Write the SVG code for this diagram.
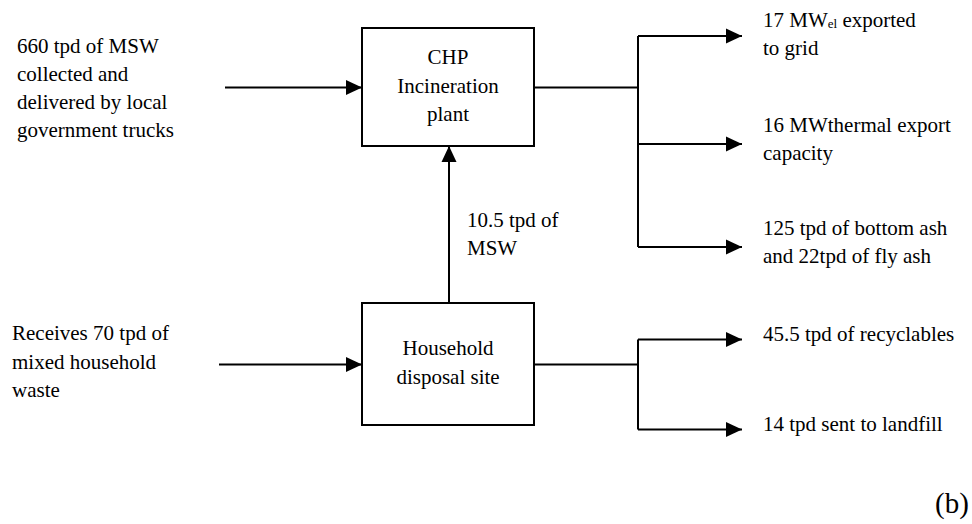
<svg xmlns="http://www.w3.org/2000/svg" width="972" height="524" viewBox="0 0 972 524">
<style>
text { font-family: 'Liberation Serif', 'Times New Roman', Times, 'DejaVu Serif', serif; font-size: 21px; fill: #000; }
.c { text-anchor: middle; }
.big { font-size: 29px; }
.sub { font-size: 13px; }
.box { fill: #fff; stroke: #000; stroke-width: 2; }
.ln { fill: none; stroke: #000; stroke-width: 2; }
.ar { fill: none; stroke: #000; stroke-width: 2; marker-end: url(#ah); }
</style>
<defs>
<marker id="ah" markerUnits="userSpaceOnUse" markerWidth="16" markerHeight="16" viewBox="0 0 16 16" refX="16" refY="8" orient="auto">
<path d="M0,0.5 L16,8 L0,15.5 Z" fill="#000"/>
</marker>
</defs>
<rect width="972" height="524" fill="#fff"/>
<g id="connectors">
<path class="ar" d="M225,87.5 H362"/>
<path class="ar" d="M219,364.5 H362"/>
<path class="ar" d="M449,303 V146"/>
<path class="ln" d="M534,87.5 H638"/>
<path class="ln" d="M638,36 V247"/>
<path class="ar" d="M638,36 H742"/>
<path class="ar" d="M638,144 H742"/>
<path class="ar" d="M638,247 H742"/>
<path class="ln" d="M534,364.5 H638"/>
<path class="ln" d="M638,339.5 V429.5"/>
<path class="ar" d="M638,339.5 H742"/>
<path class="ar" d="M638,429.5 H742"/>
</g>
<g id="chp">
<rect class="box" x="362" y="28" width="172" height="118"/>
<text class="c" x="448" y="64">CHP</text>
<text class="c" x="448" y="93">Incineration</text>
<text class="c" x="448" y="121">plant</text>
</g>
<g id="household">
<rect class="box" x="362" y="303" width="172" height="122"/>
<text class="c" x="448" y="355">Household</text>
<text class="c" x="448" y="384">disposal site</text>
</g>
<g id="msw-input">
<text x="17" y="53">660 tpd of MSW</text>
<text x="17" y="81">collected and</text>
<text x="17" y="109">delivered by local</text>
<text x="17" y="137">government trucks</text>
</g>
<g id="household-input">
<text x="12" y="340">Receives 70 tpd of</text>
<text x="12" y="369">mixed household</text>
<text x="12" y="397">waste</text>
</g>
<g id="msw-transfer">
<text x="467" y="227">10.5 tpd of</text>
<text x="467" y="255">MSW</text>
</g>
<g id="electricity">
<text x="763" y="27">17 MW<tspan class="sub" dy="1">el</tspan><tspan dy="-1"> exported</tspan></text>
<text x="763" y="55">to grid</text>
</g>
<g id="thermal">
<text x="763" y="132">16 MWthermal export</text>
<text x="763" y="160">capacity</text>
</g>
<g id="ash">
<text x="763" y="235">125 tpd of bottom ash</text>
<text x="763" y="263">and 22tpd of fly ash</text>
</g>
<g id="recyclables">
<text x="763" y="341">45.5 tpd of recyclables</text>
</g>
<g id="landfill">
<text x="763" y="431">14 tpd sent to landfill</text>
</g>
<text class="big" x="935" y="513">(b)</text>
</svg>
